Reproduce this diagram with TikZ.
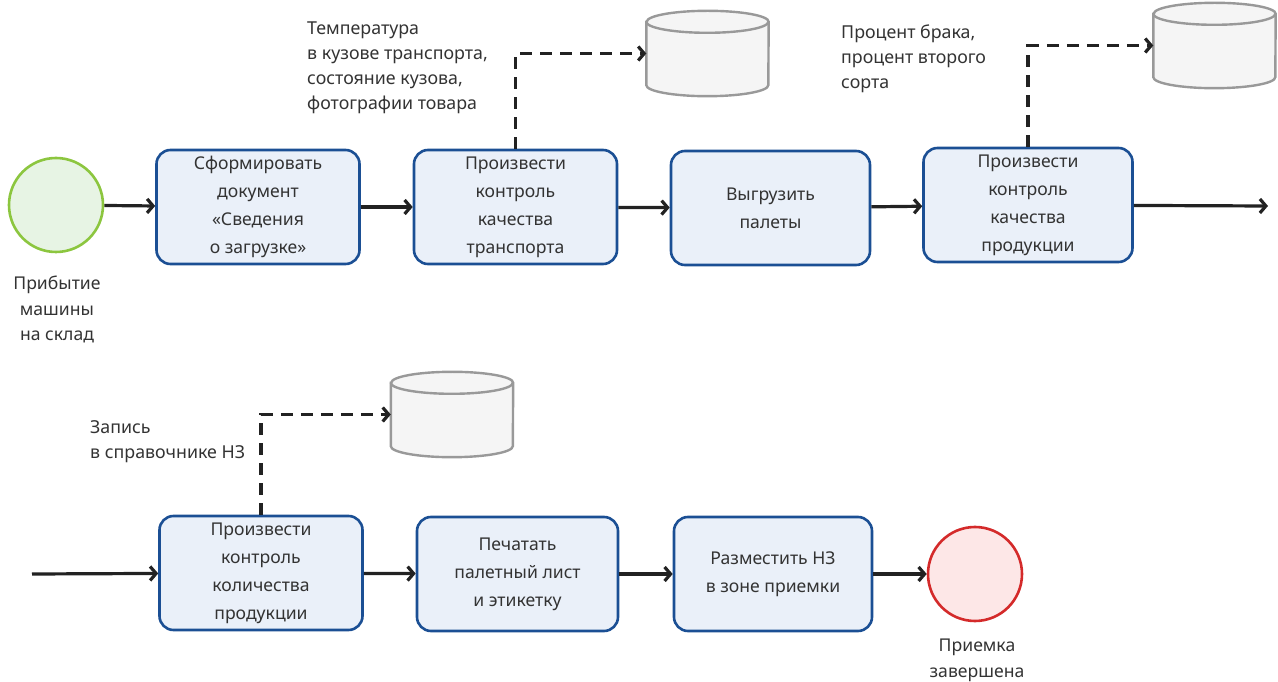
\documentclass[tikz,border=0pt]{standalone}
\usepackage{fontspec}
\setmainfont{Noto Sans}
\usetikzlibrary{positioning,arrows.meta}

\definecolor{taskblue}{HTML}{1B4F94}
\definecolor{taskfill}{HTML}{EAF0F9}
\definecolor{startgreen}{HTML}{8CC63F}
\definecolor{startfill}{HTML}{E7F4E4}
\definecolor{endred}{HTML}{D42A2A}
\definecolor{endfill}{HTML}{FDE7E7}
\definecolor{storegray}{HTML}{999999}
\definecolor{storefill}{HTML}{F5F5F5}
\definecolor{inkgray}{HTML}{333333}
\definecolor{linkblack}{HTML}{222222}

% data store drum drawn round an empty node
\newcommand{\drumat}[1]{%
  \draw[drum] ([yshift=-11pt]#1.north west) -- ([yshift=11pt]#1.south west)
    arc[start angle=180, end angle=360, x radius=61pt, y radius=11pt]
    -- ([yshift=-11pt]#1.north east)
    arc[start angle=0, end angle=180, x radius=61pt, y radius=11pt] -- cycle;
  \draw[drum, fill=none] ([yshift=-11pt]#1.north west)
    arc[start angle=180, end angle=360, x radius=61pt, y radius=11pt];
}

\tikzset{
  task/.style={draw=taskblue, fill=taskfill, line width=2.6pt, rounded corners=14pt,
    minimum width=203pt, minimum height=114pt, align=center, text=inkgray,
    font=\fontsize{17.6}{28}\selectfont},
  startev/.style={circle, draw=startgreen, fill=startfill, line width=2.6pt, minimum size=94pt},
  endev/.style={circle, draw=endred, fill=endfill, line width=2.6pt, minimum size=94pt},
  datastore/.style={rectangle, inner sep=0pt, minimum width=122pt, minimum height=85pt},
  drum/.style={draw=storegray, fill=storefill, line width=2.4pt},
  flow/.style={draw=linkblack, line width=3.2pt, -{Straight Barb[length=6pt,width=14pt]}},
  assoc/.style={flow, dash pattern=on 12pt off 8pt},
  note/.style={align=left, inner sep=0pt, text=inkgray, font=\fontsize{17.8}{25}\selectfont},
  evlabel/.style={align=center, inner sep=0pt, text=inkgray, font=\fontsize{17.6}{25.5}\selectfont}
}

\begin{document}
\begin{tikzpicture}[x=1pt, y=1pt]
    \useasboundingbox (0,0) rectangle (1278,681);

    % first row
    \node[startev] (start) at (56,476) {};
    \node[evlabel, anchor=north] (startlbl) at (57,405) {Прибытие\\машины\\на склад};
    \node[task] (doc) at (258,474) {Сформировать\\документ\\«Сведения\\о загрузке»};
    \node[task] (transp) at (515.5,474) {Произвести\\контроль\\качества\\транспорта};
    \node[task, minimum width=199pt] (unload) at (770.5,473) {Выгрузить\\палеты};
    \node[task, minimum width=209pt] (quality) at (1028,476) {Произвести\\контроль\\качества\\продукции};
    \coordinate (out1) at (1268,475);

    % data stores of the first row
    \node[datastore] (db1) at (707.5,627.5) {};
    \drumat{db1}
    \node[datastore] (db2) at (1214.5,635.5) {};
    \drumat{db2}
    \node[note, anchor=north west] (note1) at (307,659) {Температура\\в кузове транспорта,\\состояние кузова,\\фотографии товара};
    \node[note, anchor=north west] (note2) at (841,656) {Процент брака,\\процент второго\\сорта};

    % second row
    \coordinate (in2) at (32,107);
    \node[task] (count) at (261,108) {Произвести\\контроль\\количества\\продукции};
    \node[task, minimum width=201pt] (print) at (517.5,107) {Печатать\\палетный лист\\и этикетку};
    \node[task, minimum width=198pt] (place) at (773,107) {Разместить НЗ\\в зоне приемки};
    \node[endev] (finish) at (975,107) {};
    \node[evlabel, anchor=north] (finishlbl) at (977,42) {Приемка\\завершена};

    % data store of the second row
    \node[datastore] (db3) at (452,266.5) {};
    \drumat{db3}
    \node[note, anchor=north west] (note3) at (90,261) {Запись\\в справочнике НЗ};

    % sequence flows
    \draw[flow] (start) -- (doc);
    \draw[flow] (doc) -- (transp);
    \draw[flow] (transp) -- (unload);
    \draw[flow] (unload) -- (quality);
    \draw[flow] (quality) -- (out1);
    \draw[flow] (in2) -- (count);
    \draw[flow] (count) -- (print);
    \draw[flow] (print) -- (place);
    \draw[flow] (place) -- (finish);

    % data associations
    \draw[assoc] (transp.north) |- (db1);
    \draw[assoc] (quality.north) |- (db2);
    \draw[assoc] (count.north) |- (db3);
\end{tikzpicture}
\end{document}
